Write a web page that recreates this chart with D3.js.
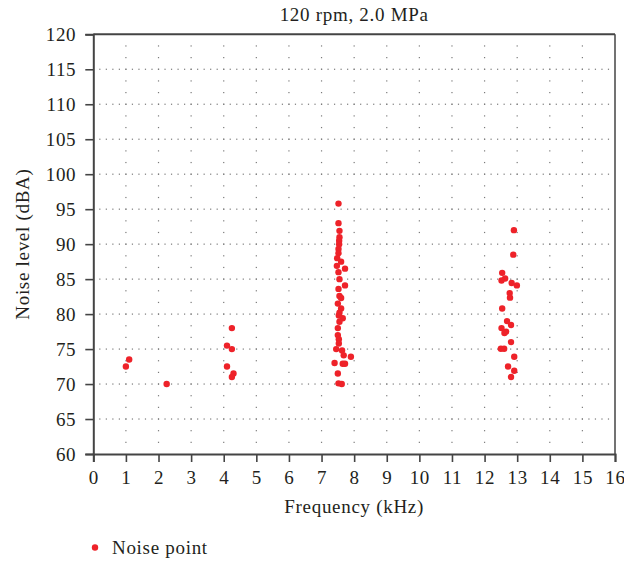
<!DOCTYPE html>
<html>
<head>
<meta charset="utf-8">
<script src="https://cdn.jsdelivr.net/npm/d3@7"></script>
<style>
  html, body { margin: 0; padding: 0; background: #fff; }
  svg { display: block; }
  text { font-family: "Liberation Serif", "Times New Roman", serif; fill: #231f20; }
</style>
</head>
<body>
<svg id="chart" width="624" height="563"></svg>
<script>
// Measured noise points: frequency (kHz) and level (dBA)
const freqKHz = [
  1.0, 1.1, 2.25,
  4.25, 4.1, 4.25, 4.1, 4.3, 4.25,
  7.52, 7.52, 7.55, 7.55, 7.54, 7.54, 7.52, 7.52, 7.48, 7.6,
  7.47, 7.72, 7.52, 7.55, 7.72, 7.52, 7.55, 7.6, 7.5, 7.6,
  7.55, 7.53, 7.65, 7.55, 7.5, 7.5, 7.53, 7.53, 7.45, 7.63,
  7.68, 7.9, 7.4, 7.65, 7.72, 7.5, 7.52, 7.62,
  12.9, 12.88, 12.54, 12.63, 12.52, 12.83, 12.99, 12.77, 12.78, 12.54,
  12.69, 12.81, 12.52, 12.66, 12.61, 12.81, 12.5, 12.6, 12.91, 12.72,
  12.91, 12.81
];
const levelDBA = [
  72.5, 73.5, 70.0,
  78.0, 75.5, 75.0, 72.5, 71.5, 71.0,
  95.8, 93.0, 91.9, 91.0, 90.5, 90.0, 89.3, 88.7, 88.0, 87.5,
  86.9, 86.5, 86.0, 85.0, 84.1, 83.6, 82.6, 82.3, 81.5, 80.8,
  80.2, 79.8, 79.4, 78.9, 78.0, 77.0, 76.4, 75.8, 75.0, 74.8,
  74.1, 73.9, 73.0, 72.9, 72.9, 71.5, 70.1, 70.0,
  92.0, 88.5, 85.9, 85.1, 84.8, 84.45, 84.1, 83.0, 82.35, 80.8,
  79.0, 78.45, 78.0, 77.5, 77.3, 76.0, 75.05, 75.05, 73.9, 72.5,
  71.9, 71.0
];

const xTicks = d3.range(0, 17, 1);
const yTicks = d3.range(60, 121, 5);

const titleText = "120 rpm, 2.0 MPa";
const xLabel = "Frequency (kHz)";
const yLabel = "Noise level (dBA)";
const legendLabel = "Noise point";

const points = freqKHz.map((f, i) => ({ f, v: levelDBA[i] }));

const svg = d3.select("#chart");
const margin = { left: 93.3, right: 624 - 615, top: 34.3, bottom: 563 - 454 };
const W = 624, H = 563;

const x = d3.scaleLinear().domain([0, 16]).range([margin.left, W - margin.right]);
const y = d3.scaleLinear().domain([60, 120]).range([H - margin.bottom, margin.top]);

const fontSize = 19;
const letterSp = 0.7;
const ink = "#231f20";

// Dotted grid: horizontal rows every 5 dBA, dots every 0.2 kHz
const gridG = svg.append("g").attr("fill", "#7a7a7a");
const hRows = yTicks.filter(t => t > 60 && t < 120);
hRows.forEach(t => {
  gridG.selectAll(null)
    .data(d3.range(1, 80).map(k => k * 0.2))
    .enter().append("rect")
    .attr("x", d => x(d) - 0.6)
    .attr("y", y(t) - 0.6)
    .attr("width", 1.2).attr("height", 1.2);
});
// Vertical columns every 1 kHz, dots every 5/3 dBA
xTicks.filter(t => t > 0 && t < 16).forEach(t => {
  gridG.selectAll(null)
    .data(d3.range(1, 36).map(k => 60 + k * 5 / 3))
    .enter().append("rect")
    .attr("x", x(t) - 0.6)
    .attr("y", d => y(d) - 0.6)
    .attr("width", 1.2).attr("height", 1.2);
});

// Frame
svg.append("line")
  .attr("x1", x(0)).attr("x2", x(16)).attr("y1", y(120)).attr("y2", y(120))
  .attr("stroke", "#444").attr("stroke-width", 2);
svg.append("line")
  .attr("x1", x(16)).attr("x2", x(16)).attr("y1", y(120)).attr("y2", y(60))
  .attr("stroke", "#444").attr("stroke-width", 1.5);

// Axes
const xAxis = svg.append("g")
  .attr("transform", `translate(0,${y(60)})`)
  .call(d3.axisBottom(x).tickValues(xTicks).tickSize(8).tickPadding(9).tickFormat(d3.format("d")));
const yAxis = svg.append("g")
  .attr("transform", `translate(${x(0)},0)`)
  .call(d3.axisLeft(y).tickValues(yTicks).tickSize(8).tickPadding(9).tickFormat(d3.format("d")));

[xAxis, yAxis].forEach(g => {
  g.attr("font-family", null);
  g.select(".domain").attr("stroke", "#444").attr("stroke-width", 2);
  g.selectAll(".tick line").attr("stroke", "#444").attr("stroke-width", 1.6);
  g.selectAll(".tick text")
    .attr("font-size", fontSize)
    .attr("letter-spacing", letterSp)
    .attr("fill", ink);
});
xAxis.selectAll(".tick text").attr("dy", "0.71em");
yAxis.selectAll(".tick text").attr("dy", "0.34em");

// Points
svg.append("g").selectAll("circle")
  .data(points)
  .enter().append("circle")
  .attr("cx", d => x(d.f))
  .attr("cy", d => y(d.v))
  .attr("r", 3.2)
  .attr("fill", "#ee2229");

// Title and axis labels
svg.append("text")
  .attr("x", (x(0) + x(16)) / 2).attr("y", 20.5)
  .attr("text-anchor", "middle")
  .attr("font-size", fontSize).attr("letter-spacing", letterSp)
  .text(titleText);

svg.append("text")
  .attr("x", (x(0) + x(16)) / 2).attr("y", 513)
  .attr("text-anchor", "middle")
  .attr("font-size", fontSize).attr("letter-spacing", letterSp)
  .text(xLabel);

svg.append("text")
  .attr("transform", `translate(29,${(y(60) + y(120)) / 2}) rotate(-90)`)
  .attr("text-anchor", "middle")
  .attr("font-size", fontSize).attr("letter-spacing", letterSp)
  .text(yLabel);

// Legend
const legend = svg.append("g").attr("transform", "translate(95,547.5)");
legend.append("circle").attr("r", 3.2).attr("fill", "#ee2229");
legend.append("text")
  .attr("x", 17).attr("y", 6)
  .attr("font-size", fontSize).attr("letter-spacing", letterSp)
  .text(legendLabel);
</script>
</body>
</html>
